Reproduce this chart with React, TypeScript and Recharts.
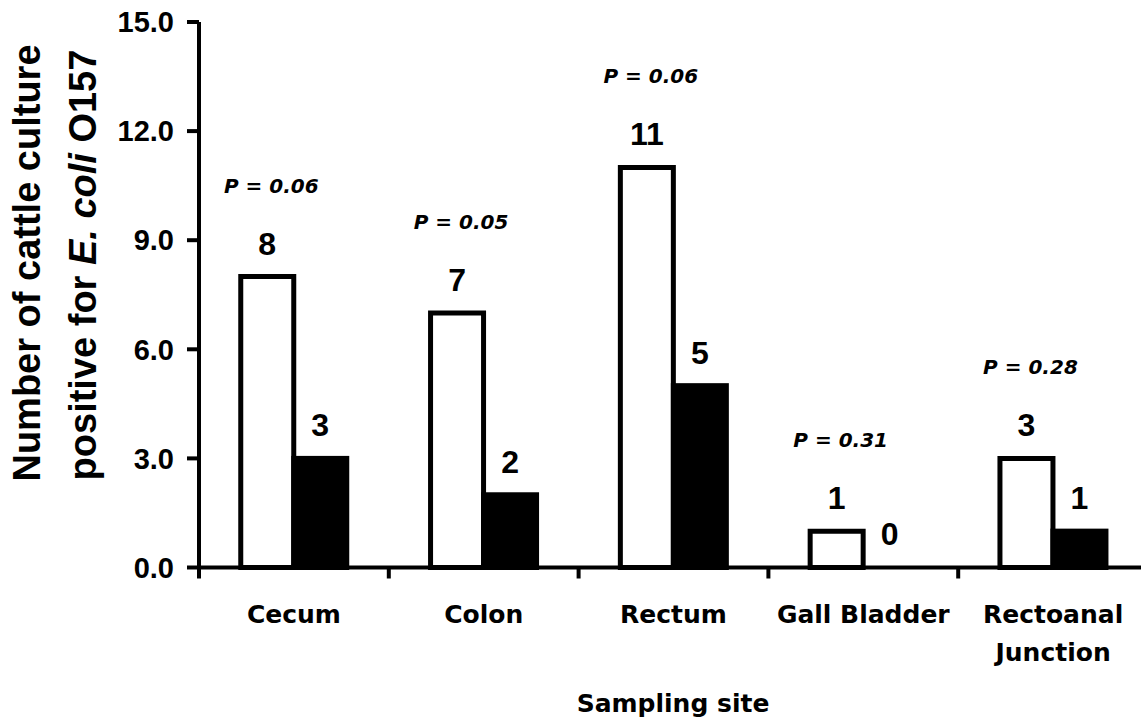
import React from "react";
import { BarChart, Bar, XAxis, YAxis, LabelList } from "recharts";

const sites = ["Cecum", "Colon", "Rectum", "Gall Bladder", "Rectoanal\nJunction"];
const groupA = [8, 7, 11, 1, 3];
const groupB = [3, 2, 5, 0, 1];
const pValues = ["P = 0.06", "P = 0.05", "P = 0.06", "P = 0.31", "P = 0.28"];
const yTicks = [0, 3, 6, 9, 12, 15];

const data = sites.map((s, i) => ({ site: s, a: groupA[i], b: groupB[i], p: pValues[i] }));

const XTick = (props: any) => {
  const { x, y, payload } = props;
  const half = payload && payload.offset != null ? payload.offset : 95;
  const lines = String(payload.value).split("\n");
  return (
    <g>
      <line x1={x - half} x2={x - half} y1={y} y2={y + 11} stroke="#000" strokeWidth={4} />
      <text
        x={x}
        y={y + 55}
        textAnchor="middle"
        fontFamily="DejaVu Sans"
        fontWeight="bold"
        fontSize={25}
        fill="#000"
      >
        {lines.map((l, i) => (
          <tspan key={i} x={x} dy={i === 0 ? 0 : 38}>
            {l}
          </tspan>
        ))}
      </text>
    </g>
  );
};

const ValueLabel = (props: any) => {
  const { x, y, width, value } = props;
  return (
    <text
      x={x + width / 2}
      y={y - 22}
      textAnchor="middle"
      fontFamily="Liberation Sans"
      fontWeight="bold"
      fontSize={32}
      fill="#000"
    >
      {String(value)}
    </text>
  );
};

const PLabel = (props: any) => {
  const { x, y, width, value } = props;
  return (
    <text
      x={x + width / 2 + 4}
      y={y - 84}
      textAnchor="middle"
      fontFamily="DejaVu Sans"
      fontWeight="bold"
      fontStyle="italic"
      fontSize={20}
      fill="#000"
    >
      {value}
    </text>
  );
};

const BlackShape = (props: any) => {
  const { x, y, width, height, payload } = props;
  if (!payload || !payload.b) return <g />;
  return <rect x={x} y={y} width={width} height={height} fill="#000" stroke="#000" strokeWidth={5} />;
};

const YTitle = () => (
  <g>
    <text
      transform="translate(40,263) rotate(-90)"
      textAnchor="middle"
      fontFamily="Liberation Sans"
      fontWeight="bold"
      fontSize={38}
      fill="#000"
    >
      Number of cattle culture
    </text>
    <text
      transform="translate(96,265) rotate(-90)"
      textAnchor="middle"
      fontFamily="Liberation Sans"
      fontWeight="bold"
      fontSize={38}
      fill="#000"
    >
      positive for <tspan fontStyle="italic">E. coli</tspan> O157
    </text>
  </g>
);

const XTitle = () => (
  <text
    x={673}
    y={712}
    textAnchor="middle"
    fontFamily="DejaVu Sans"
    fontWeight="bold"
    fontSize={25}
    fill="#000"
  >
    Sampling site
  </text>
);

export default function App() {
  return (
    <div
      style={{
        position: "absolute",
        left: 0,
        top: 0,
        width: 1141,
        height: 717,
        overflow: "hidden",
        background: "#fff",
      }}
    >
      <BarChart
        width={1160}
        height={717}
        data={data}
        margin={{ top: 22, right: 12, bottom: 0, left: 0 }}
        barCategoryGap="22%"
        barGap={0}
      >
        <XAxis
          dataKey="site"
          height={149.5}
          axisLine={{ stroke: "#000", strokeWidth: 4 }}
          tickLine={false}
          tickSize={0}
          tickMargin={0}
          tick={<XTick />}
          interval={0}
          label={{ content: () => <XTitle /> }}
        />
        <YAxis
          width={199}
          domain={[0, 15]}
          ticks={yTicks}
          interval={0}
          tickFormatter={(v: number) => v.toFixed(1)}
          axisLine={{ stroke: "#000", strokeWidth: 4 }}
          tickLine={{ stroke: "#000", strokeWidth: 4 }}
          tickSize={12}
          tickMargin={13}
          tick={{ fill: "#000", fontFamily: "Liberation Sans", fontWeight: "bold", fontSize: 29 }}
          label={{ content: () => <YTitle /> }}
        />
        <Bar dataKey="a" fill="#fff" stroke="#000" strokeWidth={5} isAnimationActive={false}>
          <LabelList dataKey="a" content={<ValueLabel />} />
          <LabelList dataKey="p" content={<PLabel />} />
        </Bar>
        <Bar dataKey="b" fill="#000" minPointSize={1} shape={<BlackShape />} isAnimationActive={false}>
          <LabelList dataKey="b" content={<ValueLabel />} />
        </Bar>
      </BarChart>
    </div>
  );
}
